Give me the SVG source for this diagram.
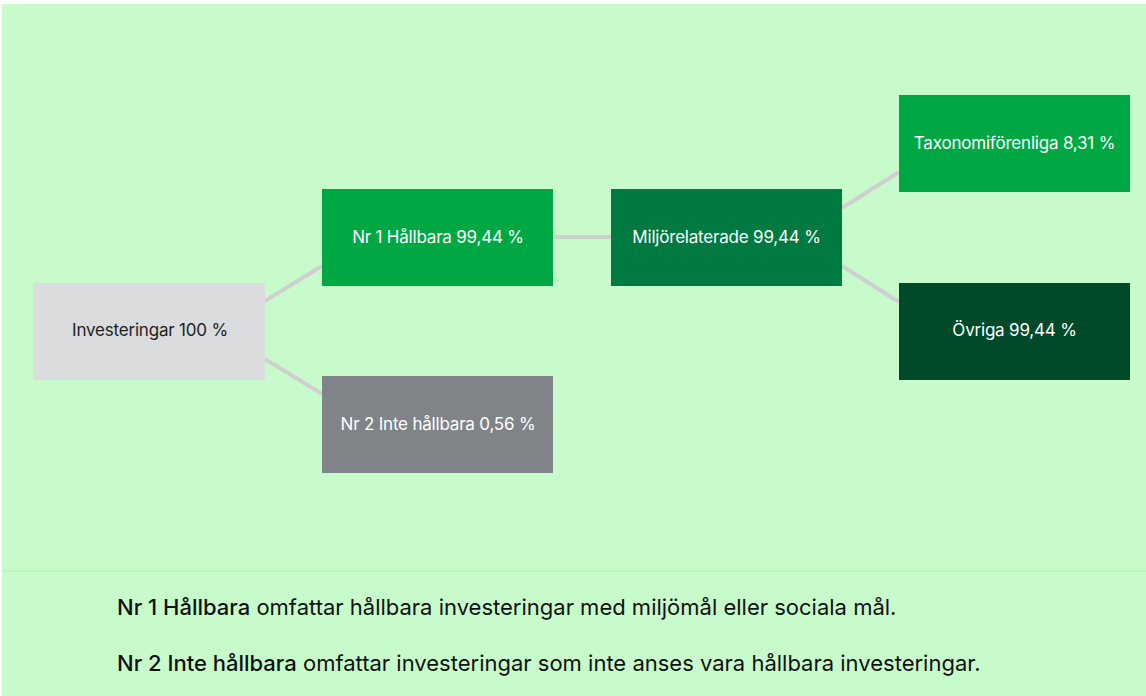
<svg xmlns="http://www.w3.org/2000/svg" width="1146" height="696" viewBox="0 0 1146 696">
<style>
.lbl{font-family:Inter,"Liberation Sans",sans-serif;font-size:17px;text-anchor:middle;dominant-baseline:central;letter-spacing:-0.2px}
.w{fill:#ffffff}
.d{fill:#1e1e1e}
.conn{stroke:#cfcfcf;stroke-width:4;fill:none}
.foot{font-family:Inter,"Liberation Sans",sans-serif;font-size:22px;fill:#111;letter-spacing:0px}
</style>
<rect x="0" y="0" width="1146" height="696" fill="#ffffff"/>
<rect x="2" y="4" width="1144" height="692" fill="#c8fbcc"/>
<line x1="2" y1="571" x2="1146" y2="571" stroke="#a6f2ae" stroke-width="1"/>
<g id="connectors">
<line class="conn" x1="265" y1="301" x2="322" y2="266"/>
<line class="conn" x1="265" y1="359" x2="322" y2="394"/>
<line class="conn" x1="553" y1="237" x2="611" y2="237"/>
<line class="conn" x1="842" y1="208" x2="899" y2="172"/>
<line class="conn" x1="842" y1="266" x2="899" y2="302"/>
</g>
<g id="investeringar">
<rect x="33" y="283" width="232" height="97" fill="#dadcde"/>
<text class="lbl d" x="150" y="330">Investeringar 100 %</text>
</g>
<g id="nr1">
<rect x="322" y="189" width="231" height="97" fill="#00a843"/>
<text class="lbl w" x="438" y="237">Nr 1 Hållbara 99,44 %</text>
</g>
<g id="nr2">
<rect x="322" y="376" width="231" height="97" fill="#808488"/>
<text class="lbl w" x="438" y="424">Nr 2 Inte hållbara 0,56 %</text>
</g>
<g id="miljo">
<rect x="611" y="189" width="231" height="97" fill="#007a40"/>
<text class="lbl w" x="726.5" y="237">Miljörelaterade 99,44 %</text>
</g>
<g id="taxonomi">
<rect x="899" y="95" width="231" height="97" fill="#00a843"/>
<text class="lbl w" x="1014.5" y="143">Taxonomiförenliga 8,31 %</text>
</g>
<g id="ovriga">
<rect x="899" y="283" width="231" height="97" fill="#004a2a"/>
<text class="lbl w" x="1014.5" y="330">Övriga 99,44 %</text>
</g>
<text class="foot" x="117" y="615"><tspan font-weight="500">Nr 1 Hållbara</tspan> omfattar hållbara investeringar med miljömål eller sociala mål.</text>
<text class="foot" x="117" y="671"><tspan font-weight="500">Nr 2 Inte hållbara</tspan> omfattar investeringar som inte anses vara hållbara investeringar.</text>
</svg>
